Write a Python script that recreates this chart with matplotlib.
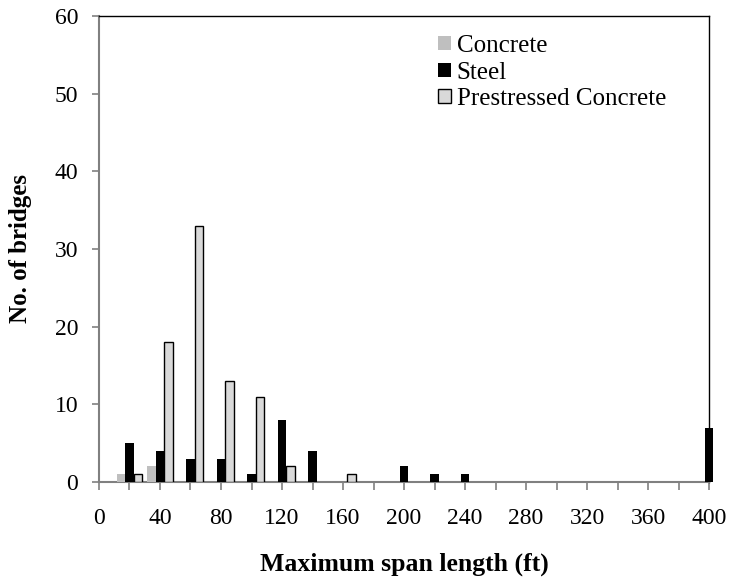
import matplotlib
matplotlib.use("Agg")
import matplotlib.pyplot as plt
import numpy as np
from matplotlib.ticker import MultipleLocator

span_concrete = [20, 40]
concrete = [1, 2]
span_steel = [20, 40, 60, 80, 100, 120, 140, 200, 220, 240, 400]
steel = [5, 4, 3, 3, 1, 8, 4, 2, 1, 1, 7]
span_prestressed = [20, 40, 60, 80, 100, 120, 160]
prestressed = [1, 18, 33, 13, 11, 2, 1]

plt.rcParams['font.family'] = ['Liberation Serif', 'DejaVu Serif']

fig = plt.figure(figsize=(7.31, 5.84), dpi=100)
ax = fig.add_axes([0.1354, 0.1747, 0.8346, 0.7979])

w = 5.6
ax.bar(np.array(span_concrete) - w, concrete, width=w, color='#BFBFBF', label='Concrete', zorder=3)
ax.bar(np.array(span_steel), steel, width=w, color='black', label='Steel', zorder=3, clip_on=False)
ax.bar(np.array(span_prestressed) + w, prestressed, width=w, color='#D9D9D9', edgecolor='black',
       linewidth=1.0, label='Prestressed Concrete', zorder=3)

ax.set_xlim(0, 400)
ax.set_ylim(0, 60)
ax.xaxis.set_major_locator(MultipleLocator(40))
ax.xaxis.set_minor_locator(MultipleLocator(20))
ax.yaxis.set_major_locator(MultipleLocator(10))

for s in ['left', 'bottom']:
    ax.spines[s].set_color('#808080')
    ax.spines[s].set_linewidth(1.5)
for s in ['top', 'right']:
    ax.spines[s].set_color('black')
    ax.spines[s].set_linewidth(1.0)

ax.tick_params(axis='both', which='both', direction='out', color='#808080', width=1.2,
               labelsize=17, top=False, right=False)
ax.tick_params(axis='x', which='both', length=6, pad=13)
ax.tick_params(axis='y', which='major', length=5, pad=10)

ax.set_xlabel('Maximum span length (ft)', fontsize=18.5, fontweight='bold', labelpad=17)
ax.set_ylabel('No. of bridges', fontsize=18, fontweight='bold', labelpad=16)

leg = ax.legend(loc='upper left', bbox_to_anchor=(0.5557, 0.959), frameon=False, fontsize=18,
                handlelength=0.5, handleheight=0.5, handletextpad=0.24, labelspacing=0.18,
                borderaxespad=0.0, borderpad=0.0)

fig.savefig('out.png', dpi=100)
